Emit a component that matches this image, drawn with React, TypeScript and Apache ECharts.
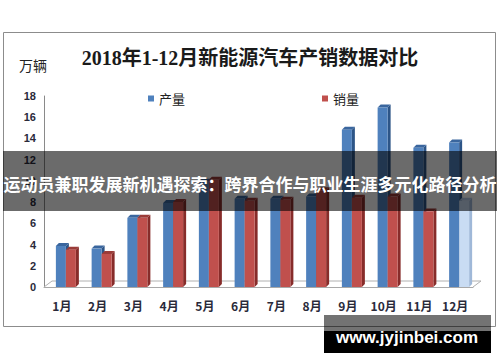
import React, { useEffect, useRef } from "react";
import * as echarts from "echarts";

const categories = ["1月", "2月", "3月", "4月", "5月", "6月", "7月", "8月", "9月", "10月", "11月", "12月"];
const production = [4.15, 3.9, 6.8, 8.2, 10.2, 8.6, 8.6, 8.8, 15.1, 17.2, 13.4, 13.9];
const sales = [3.8, 3.4, 6.8, 8.3, 10.4, 8.4, 8.5, 9.4, 8.7, 8.8, 7.4, 8.4];
const highlightedSalesIndex = 11;
const yTicks = { min: 0, max: 18, interval: 2 };

const titleText = "2018年1-12月新能源汽车产销数据对比";
const unitText = "万辆";
const bannerText = "运动员兼职发展新机遇探索：跨界合作与职业生涯多元化路径分析";
const watermarkText = "www.jyjinbei.com";

type Palette = { front: string; side: string; top: string };
const bluePal: Palette = { front: "#4f81bd", side: "#2d5587", top: "#3a669e" };
const redPal: Palette = { front: "#c0504d", side: "#872c2a", top: "#9a3b38" };
const lightPal: Palette = { front: "#c9dcf3", side: "#9fb8d8", top: "#b3c9e6" };

function makeRender(offset: number, pal: Palette, special?: number) {
  return (params: any, api: any) => {
    const idx = api.value(0);
    const v = api.value(1);
    const top = api.coord([idx, v]);
    const base = api.coord([idx, 0]);
    const p = special !== undefined && idx === special ? lightPal : pal;
    const w = 10;
    const d = 3;
    const x0 = top[0] + offset;
    const y0 = top[1] + d;
    const y1 = base[1];
    return {
      type: "group",
      children: [
        {
          type: "polygon",
          shape: { points: [[x0 + w, y0], [x0 + w + d, y0 - d], [x0 + w + d, y1 - d], [x0 + w, y1]] },
          style: { fill: p.side },
        },
        {
          type: "polygon",
          shape: { points: [[x0, y0], [x0 + d, y0 - d], [x0 + w + d, y0 - d], [x0 + w, y0]] },
          style: { fill: p.top },
        },
        {
          type: "rect",
          shape: { x: x0, y: y0, width: w, height: Math.max(0, y1 - y0) },
          style: { fill: p.front },
        },
      ],
    };
  };
}

export default function App() {
  const ref = useRef<HTMLDivElement>(null);
  useEffect(() => {
    if (!ref.current) return;
    const chart = echarts.init(ref.current, null, { renderer: "svg" });
    const option: any = {
      animation: false,
      backgroundColor: "#ffffff",
      title: {
        text: titleText,
        left: "center",
        top: 43,
        textStyle: {
          fontSize: 20,
          fontWeight: "bold",
          color: "#1a1a1a",
          fontFamily: "'Liberation Serif', 'Noto Sans CJK SC', serif",
        },
      },
      legend: [
        {
          data: [{ name: "产量", icon: "rect" }],
          left: 143,
          top: 87,
          itemWidth: 6,
          itemHeight: 6,
          itemGap: 4,
          textStyle: { fontSize: 13, color: "#222", fontFamily: "'Noto Sans CJK SC', sans-serif" },
        },
        {
          data: [{ name: "销量", icon: "rect" }],
          left: 317,
          top: 87,
          itemWidth: 6,
          itemHeight: 6,
          itemGap: 4,
          textStyle: { fontSize: 13, color: "#222", fontFamily: "'Noto Sans CJK SC', sans-serif" },
        },
      ],
      grid: { left: 44, right: 27, top: 96, bottom: 75 },
      xAxis: {
        type: "category",
        data: categories,
        axisLine: { show: true, lineStyle: { color: "#a8a8a8" } },
        axisTick: { show: false },
        axisLabel: {
          fontSize: 12,
          color: "#2a2a3a",
          fontWeight: "bold",
          margin: 12,
          fontFamily: "'Noto Sans CJK SC', sans-serif",
        },
      },
      yAxis: {
        type: "value",
        min: yTicks.min,
        max: yTicks.max,
        interval: yTicks.interval,
        axisLine: { show: true, lineStyle: { color: "#8a8a8a" } },
        axisTick: { show: false },
        splitLine: { show: false },
        axisLabel: {
          fontSize: 11,
          color: "#2a2a3a",
          fontWeight: "bold",
          margin: 8,
          fontFamily: "'Liberation Sans', sans-serif",
        },
      },
      series: [
        {
          name: "产量",
          type: "custom",
          itemStyle: { color: bluePal.front },
          renderItem: makeRender(-6, bluePal),
          encode: { x: 0, y: 1 },
          data: production.map((v, i) => [i, v]),
          z: 2,
        },
        {
          name: "销量",
          type: "custom",
          itemStyle: { color: redPal.front },
          renderItem: makeRender(4, redPal, highlightedSalesIndex),
          encode: { x: 0, y: 1 },
          data: sales.map((v, i) => [i, v]),
          z: 3,
        },
      ],
      graphic: [
        {
          type: "polyline",
          shape: { points: [[44, 287], [52, 281], [481, 281], [473, 287]] },
          style: { stroke: "#b0b0b0", fill: "none", lineWidth: 1 },
          z: 1,
        },
        {
          type: "rect",
          shape: { x: 3.5, y: 32.5, width: 492, height: 294 },
          style: { stroke: "#8c8c8c", fill: "none", lineWidth: 1 },
          z: 50,
        },
        {
          type: "text",
          x: 19,
          y: 58,
          style: {
            text: unitText,
            fontSize: 14,
            fill: "#222",
            fontFamily: "'Noto Sans CJK SC', sans-serif",
          },
          z: 50,
        },
        {
          type: "rect",
          shape: { x: 3, y: 151, width: 494, height: 60 },
          style: { fill: "rgba(0,0,0,0.58)" },
          z: 100,
        },
        {
          type: "text",
          x: 250,
          y: 183,
          style: {
            text: bannerText,
            fontSize: 17,
            fontWeight: "bold",
            fill: "#ffffff",
            align: "center",
            verticalAlign: "middle",
            fontFamily: "'Noto Sans CJK SC', sans-serif",
          },
          z: 101,
        },
        {
          type: "rect",
          shape: { x: 324, y: 315, width: 167, height: 16 },
          style: { fill: "rgba(0,0,0,0.55)" },
          z: 100,
        },
        {
          type: "rect",
          shape: { x: 324, y: 331, width: 167, height: 22 },
          style: { fill: "#000000" },
          z: 100,
        },
        {
          type: "text",
          x: 407,
          y: 337,
          style: {
            text: watermarkText,
            fontSize: 17,
            fontWeight: "bold",
            fill: "#ffffff",
            align: "center",
            verticalAlign: "middle",
            fontFamily: "'Liberation Sans', 'DejaVu Sans', sans-serif",
          },
          z: 101,
        },
      ],
    };
    chart.setOption(option);
    return () => chart.dispose();
  }, []);
  return (
    <div
      ref={ref}
      style={{ position: "fixed", left: 0, top: 0, width: 500, height: 362, background: "#fff" }}
    />
  );
}
